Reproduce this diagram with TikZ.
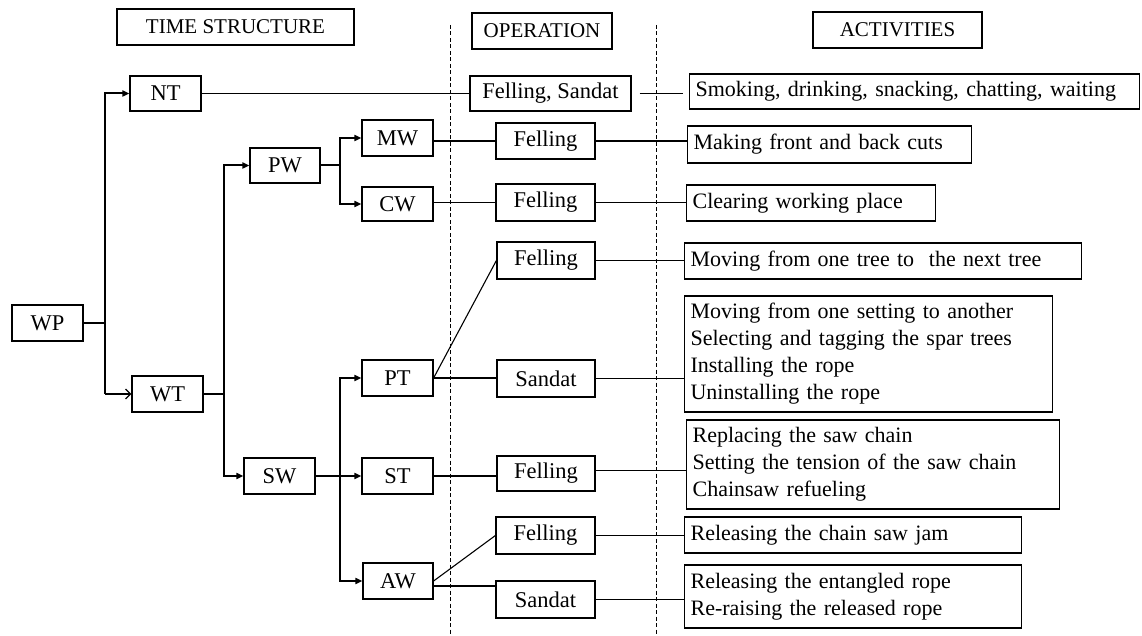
\documentclass[tikz,border=0pt]{standalone}
\usepackage{fontspec}
\setmainfont{Liberation Serif}
\usetikzlibrary{arrows.meta,calc}
\hyphenpenalty=10000
\begin{document}
\begin{tikzpicture}[x=1pt,y=-1pt,
  box/.style={draw,line width=1.2pt,inner sep=0pt,font=\fontsize{22.5}{26}\selectfont},
  hbox/.style={draw,line width=1.2pt,inner sep=0pt,font=\fontsize{21}{25}\selectfont},
  act/.style={draw,line width=1.2pt,anchor=west,inner xsep=6pt,inner ysep=0pt,align=left,font=\fontsize{22}{27}\selectfont},
  tree/.style={line width=2pt},
  tip/.style={-{Triangle[length=7pt,width=6pt]}},
  link/.style={line width=1.1pt},
  sep/.style={line width=1pt,dash pattern=on 4pt off 2.5pt}]
\useasboundingbox (0,0) rectangle (1142,636);
% separators
\draw[sep] (450,25) -- (450,636);
\draw[sep] (656,25) -- (656,636);
% headers
\node[hbox,minimum width=237pt,minimum height=36pt] (ts) at (235.5,27) {TIME STRUCTURE};
\node[hbox,minimum width=140pt,minimum height=36pt] (op) at (542,31) {OPERATION};
\node[hbox,minimum width=169pt,minimum height=36pt] (ac) at (897.5,30) {ACTIVITIES};
% time structure boxes
\node[box,minimum width=71pt,minimum height=36pt] (WP) at (47.5,323) {WP};
\node[box,minimum width=71pt,minimum height=35pt] (NT) at (165.5,93.5) {NT};
\node[box,minimum width=71pt,minimum height=36pt] (WT) at (167.5,394) {WT};
\node[box,minimum width=70pt,minimum height=35pt] (PW) at (285,165.5) {PW};
\node[box,minimum width=71pt,minimum height=36pt] (SW) at (279.5,476) {SW};
\node[box,minimum width=71pt,minimum height=36pt] (MW) at (397.5,138) {MW};
\node[box,minimum width=71pt,minimum height=34pt] (CW) at (397.5,204) {CW};
\node[box,minimum width=71pt,minimum height=36pt] (PT) at (397.5,378) {PT};
\node[box,minimum width=71pt,minimum height=36pt] (ST) at (397.5,476) {ST};
\node[box,minimum width=70pt,minimum height=36pt] (AW) at (398,581) {AW};
% operation boxes
\node[box,minimum width=161pt,minimum height=35pt] (o0) at (550.5,93.5) {Felling, Sandat};
\node[box,minimum width=99pt,minimum height=36pt] (o1) at (545.5,141) {Felling};
\node[box,minimum width=99pt,minimum height=37pt] (o2) at (545.5,202.5) {Felling};
\node[box,minimum width=98pt,minimum height=37pt] (o3) at (546,260.5) {Felling};
\node[box,minimum width=98pt,minimum height=37pt] (o4) at (546,378.5) {Sandat};
\node[box,minimum width=98pt,minimum height=35pt] (o5) at (546,473.5) {Felling};
\node[box,minimum width=99pt,minimum height=37pt] (o6) at (545.5,535.5) {Felling};
\node[box,minimum width=99pt,minimum height=37pt] (o7) at (545.5,599.5) {Sandat};
% activity boxes
\node[act,text width=438pt,minimum height=35pt] (a0) at (689,91.5) {Smoking, drinking, snacking, chatting, waiting};
\node[act,text width=272pt,minimum height=37pt] (a1) at (687,144.5) {Making front and back cuts};
\node[act,text width=237pt,minimum height=36pt] (a2) at (686,203) {Clearing working place};
\node[act,text width=385pt,minimum height=36pt] (a3) at (684,261) {Moving from one tree to~ the next tree};
\node[act,text width=356pt,minimum height=116pt] (a4) at (684,354) {Moving from one setting to another\\Selecting and tagging the spar trees\\Installing the rope\\Uninstalling the rope};
\node[act,text width=361pt,minimum height=89pt] (a5) at (686,464.5) {Replacing the saw chain\\Setting the tension of the saw chain\\Chainsaw refueling};
\node[act,text width=325pt,minimum height=36pt] (a6) at (684,535) {Releasing the chain saw jam};
\node[act,text width=325pt,minimum height=63pt] (a7) at (684,596.5) {Releasing the entangled rope\\Re-raising the released rope};
% tree connectors
\coordinate (j1) at (105,323);
\draw[tree] (WP.east) -- (j1);
\draw[tree,tip] (j1) |- (NT.west);
\draw[tree] (j1) -- (j1 |- WT.west);
\draw[link,-{Straight Barb[length=5pt,width=10pt,line width=1.2pt]}] (j1 |- WT.west) -- (WT.west);
\coordinate (j2) at (224,394);
\draw[tree] (WT.east) -- (j2);
\draw[tree,tip] (j2) |- (PW.west);
\draw[tree,tip] (j2) |- (SW.west);
\coordinate (j3) at (340,165.5);
\draw[tree] (PW.east) -- (j3);
\draw[tree,tip] (j3) |- (MW.west);
\draw[tree,tip] (j3) |- (CW.west);
\coordinate (j4) at (340,476);
\draw[tree] (SW.east) -- (j4);
\draw[tree,tip] (j4) |- (PT.west);
\draw[tree,tip] (j4) |- (ST.west);
\draw[tree,tip] (j4) |- (AW.west);
% links to operations
\draw[link] (NT.east) -- (NT.east -| o0.west);
\draw[link] (o1.west -| MW.east) -- (o1.west);
\draw[link] (o2.west -| CW.east) -- (o2.west);
\draw[link] (PT.east) -- (o3.west);
\draw[link] (PT.east) -- (PT.east -| o4.west);
\draw[link] (ST.east) -- (ST.east -| o5.west);
\draw[link] (AW.east) -- (o6.west);
\draw[link] ([yshift=-5pt]AW.east) -- ([yshift=-5pt]AW.east -| o7.west);
% links to activities
\draw[link,shorten <=8pt,shorten >=6pt] (o0.east) -- (o0.east -| a0.west);
\draw[link] (o1.east) -- (o1.east -| a1.west);
\draw[link] (o2.east) -- (o2.east -| a2.west);
\draw[link] (o3.east) -- (o3.east -| a3.west);
\draw[link] (o4.east) -- (o4.east -| a4.west);
\draw[link] ([yshift=3pt]o5.east) -- ([yshift=3pt]o5.east -| a5.west);
\draw[link] (o6.east) -- (o6.east -| a6.west);
\draw[link] (o7.east) -- (o7.east -| a7.west);
\end{tikzpicture}
\end{document}
